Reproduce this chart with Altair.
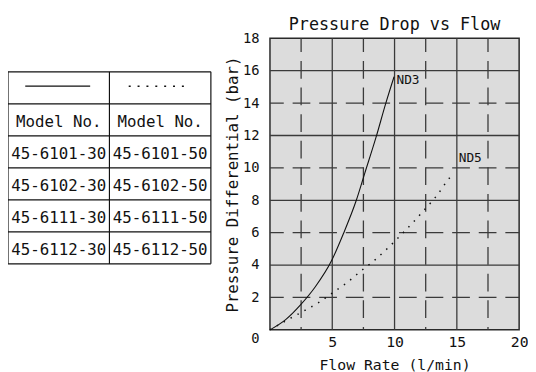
import altair as alt
import pandas as pd

# ---------------- data ----------------
nd3_flow = [0, 1.26, 2.45, 3.64, 4.95, 5.9, 6.93, 7.6, 8.51, 9.3, 9.96]
nd3_dp = [0, 0.63, 1.54, 2.66, 4.28, 5.95, 8.0, 9.65, 11.88, 14.0, 15.63]

nd5_flow = [0, 1.34, 2.64, 3.9, 5.0, 6.19, 7.33, 8.43, 9.49, 10.49, 11.5, 12.47, 13.4, 14.2, 14.7]
nd5_dp = [0, 0.59, 1.13, 1.68, 2.27, 2.92, 3.65, 4.32, 5.07, 5.84, 6.65, 7.48, 8.3, 9.17, 9.65]

curve_names = ["ND3", "ND5"]
curve_label_flow = [10.15, 15.15]
curve_label_dp = [15.4, 10.6]

x_ticks = [0, 5, 10, 15, 20]
y_ticks = [0, 2, 4, 6, 8, 10, 12, 14, 16, 18]
x_major = [5, 10, 15]
x_minor = [2.5, 7.5, 12.5, 17.5]
y_major = [4, 8, 12, 16]
y_minor = [2, 6, 10, 14]

col_solid = ["Model No.", "45-6101-30", "45-6102-30", "45-6111-30", "45-6112-30"]
col_dotted = ["Model No.", "45-6101-50", "45-6102-50", "45-6111-50", "45-6112-50"]

FONT = "DejaVu Sans Mono"
INK = "#111111"
GRID = "#3a3a3a"

# ---------------- plot part ----------------
X = alt.X(
    "flow:Q",
    scale=alt.Scale(domain=[0, 20], nice=False, zero=False),
    axis=alt.Axis(
        values=x_ticks, title="Flow Rate (l/min)", grid=False, ticks=False, domain=False,
        labelExpr="datum.value == 0 ? '' : datum.label", labelPadding=5,
        labelFont=FONT, labelFontSize=15, labelColor=INK,
        titleFont=FONT, titleFontSize=15, titleFontWeight="normal", titleColor=INK,
        titlePadding=8, labelFlush=False,
    ),
)
Y = alt.Y(
    "dp:Q",
    scale=alt.Scale(domain=[0, 18], nice=False),
    axis=alt.Axis(
        values=y_ticks, title="Pressure Differential (bar)", grid=False, ticks=False, domain=False,
        labelPadding=11, labelFont=FONT, labelFontSize=14, labelColor=INK,
        labelOffset={"condition": {"test": "datum.value == 0", "value": 9}, "value": 0},
        titleFont=FONT, titleFontSize=16, titleFontWeight="normal", titleColor=INK,
        titlePadding=2, labelFlush=False,
    ),
)

vmin = alt.Chart(pd.DataFrame({"flow": x_minor})).mark_rule(
    color=GRID, strokeWidth=1.3, strokeDash=[18, 9], strokeDashOffset=4
).encode(x=X)
hmin = alt.Chart(pd.DataFrame({"dp": y_minor})).mark_rule(
    color=GRID, strokeWidth=1.3, strokeDash=[18, 9], strokeDashOffset=4
).encode(y=Y)
vmaj = alt.Chart(pd.DataFrame({"flow": x_major})).mark_rule(color=GRID, strokeWidth=1.3).encode(x=X)
hmaj = alt.Chart(pd.DataFrame({"dp": y_major})).mark_rule(color=GRID, strokeWidth=1.3).encode(y=Y)

nd3 = alt.Chart(pd.DataFrame({"flow": nd3_flow, "dp": nd3_dp})).mark_line(
    color=INK, strokeWidth=1.1, interpolate="monotone"
).encode(x=X, y=Y)
nd5 = alt.Chart(pd.DataFrame({"flow": nd5_flow, "dp": nd5_dp})).mark_line(
    color=INK, strokeWidth=1.5, strokeDash=[1.5, 6.5], interpolate="monotone"
).encode(x=X, y=Y)
labels = alt.Chart(pd.DataFrame({"flow": curve_label_flow, "dp": curve_label_dp, "name": curve_names})).mark_text(
    font=FONT, fontSize=13, color=INK, align="left", baseline="middle"
).encode(x=X, y=Y, text="name:N")

plot = alt.layer(vmin, hmin, vmaj, hmaj, nd3, nd5, labels)

# ---------------- table part ----------------
TX_SCALE = alt.Scale(domain=[0, 2], range=[-266, -60], nice=False, zero=False)
TY_SCALE = alt.Scale(domain=[0, 6], range=[34, 229], nice=False, zero=False)

nrows = len(col_solid) + 1
hl = pd.DataFrame({"r": list(range(nrows + 1)), "c0": 0, "c1": 2})
vl = pd.DataFrame({"c": [0, 1, 2], "r0": 0, "r1": nrows})
cells = pd.DataFrame({
    "c": [0.5] * len(col_solid) + [1.5] * len(col_dotted),
    "r": [i + 1.5 for i in range(len(col_solid))] * 2,
    "t": col_solid + col_dotted,
})

t_h = alt.Chart(hl).mark_rule(color=INK, strokeWidth=1.2).encode(
    x=alt.X("c0:Q", scale=TX_SCALE, axis=None), x2="c1:Q",
    y=alt.Y("r:Q", scale=TY_SCALE, axis=None),
)
t_v = alt.Chart(vl).mark_rule(color=INK, strokeWidth=1.2).encode(
    x=alt.X("c:Q", scale=TX_SCALE, axis=None),
    y=alt.Y("r0:Q", scale=TY_SCALE, axis=None), y2="r1:Q",
)
t_txt = alt.Chart(cells).mark_text(font=FONT, fontSize=16, color=INK, dy=2).encode(
    x=alt.X("c:Q", scale=TX_SCALE, axis=None),
    y=alt.Y("r:Q", scale=TY_SCALE, axis=None),
    text="t:N",
)
key_solid = alt.Chart(pd.DataFrame({"a": [0.17], "b": [0.81], "r": [0.45]})).mark_rule(
    color=INK, strokeWidth=1.3
).encode(
    x=alt.X("a:Q", scale=TX_SCALE, axis=None), x2="b:Q",
    y=alt.Y("r:Q", scale=TY_SCALE, axis=None),
)
key_dot = alt.Chart(pd.DataFrame({"a": [1.19], "b": [1.77], "r": [0.45]})).mark_rule(
    color=INK, strokeWidth=1.6, strokeDash=[2, 7]
).encode(
    x=alt.X("a:Q", scale=TX_SCALE, axis=None), x2="b:Q",
    y=alt.Y("r:Q", scale=TY_SCALE, axis=None),
)
table = alt.layer(t_h, t_v, t_txt, key_solid, key_dot)

chart = alt.layer(plot, table).resolve_scale(x="independent", y="independent").properties(
    width=253,
    height=296,
    background="white",
    autosize=alt.AutoSizeParams(type="none"),
    padding={"left": 266, "top": 28, "right": 9, "bottom": 40},
    title=alt.TitleParams(
        "Pressure Drop vs Flow", font=FONT, fontSize=17, fontWeight="normal",
        color=INK, anchor="middle", offset=-3,
    ),
).configure_view(fill="#dcdcdc", stroke="#2a2a2a", strokeWidth=1.5)

chart.save("out.html", embed_options={"renderer": "svg", "actions": False})
